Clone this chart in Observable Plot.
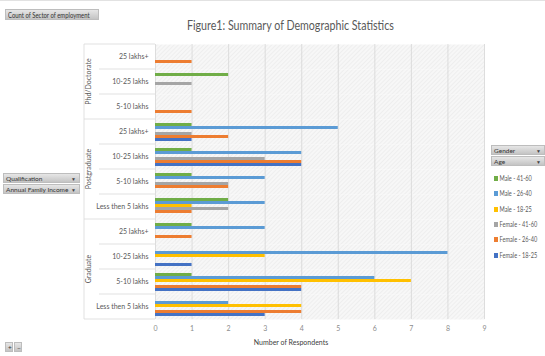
<!DOCTYPE html>
<html>
<head>
<meta charset="utf-8">
<script src="https://cdn.jsdelivr.net/npm/d3@7"></script>
<script src="https://cdn.jsdelivr.net/npm/@observablehq/plot@0.6"></script>
<style>
  html, body { margin: 0; padding: 0; background: #fff; }
  body { font-family: "Lato", sans-serif; }
  #wrap { position: relative; width: 545px; height: 356px; overflow: hidden; border-top: 1px solid #e2e2e2; box-sizing: border-box; }
  #wrap svg { position: absolute; left: 0; top: 0; }
  .title { position: absolute; left: 187px; top: 16px; font-size: 13px; color: #595959; white-space: nowrap;
           transform: scaleX(0.82); transform-origin: 0 0; }
  .btn { position: absolute; height: 10px; line-height: 10px; font-size: 6.5px; color: #333;
         background: linear-gradient(#e6e6e6, #c4c4c4); border: 1px solid #bdbdbd; box-sizing: border-box;
         padding-left: 2px; white-space: nowrap; overflow: hidden; }
  .btn.big { height: 11px; line-height: 10px; font-size: 7.8px; padding-left: 2px; }
  .btn .txt { display: inline-block; transform-origin: 0 50%; }
  .btn.big .txt { transform: scaleX(0.76); }
  .btn .arr { position: absolute; right: 3px; top: 0; font-size: 5px; color: #444; }
  .legend { position: absolute; left: 494px; top: 172px; width: 60px; height: 100px; font-size: 7px; color: #595959;
            transform: scaleX(0.8); transform-origin: 0 0; }
  .legend .item { position: absolute; left: 0; height: 10px; line-height: 10px; white-space: nowrap; }
  .legend .sw { display: inline-block; width: 5px; height: 5px; margin-right: 2px; }
  svg g[aria-label="x-axis tick label"] { fill: #8c8c8c; }
</style>
</head>
<body>
<div id="wrap"></div>
<script>
// Series (legend order, also the top-to-bottom order of bars within a row)
const series = ["Male - 41-60", "Male - 26-40", "Male - 18-25", "Female - 41-60", "Female - 26-40", "Female - 18-25"];
const seriesColors = ["#70ad47", "#5b9bd5", "#ffc000", "#a5a5a5", "#ed7d31", "#4472c4"];

// Outer categories: qualification
const qualifications = ["Phd/Doctorate", "Postgraduate", "Graduate"];

// Inner categories: annual family income, per qualification
const phdIncomes = ["25 lakhs+", "10-25 lakhs", "5-10 lakhs"];
const pgIncomes = ["25 lakhs+", "10-25 lakhs", "5-10 lakhs", "Less then 5 lakhs"];
const gradIncomes = ["25 lakhs+", "10-25 lakhs", "5-10 lakhs", "Less then 5 lakhs"];

// Count of respondents, one array per income row, values in series order
const phdCounts = [
  [0, 0, 0, 0, 1, 0],
  [2, 0, 0, 1, 0, 0],
  [0, 0, 0, 0, 1, 0]
];
const pgCounts = [
  [1, 5, 0, 1, 2, 1],
  [1, 4, 0, 3, 4, 4],
  [1, 3, 0, 2, 2, 0],
  [2, 3, 1, 2, 1, 0]
];
const gradCounts = [
  [1, 3, 0, 0, 1, 0],
  [0, 8, 3, 0, 0, 1],
  [1, 6, 7, 0, 4, 4],
  [0, 2, 4, 0, 4, 3]
];

const xTicks = [0, 1, 2, 3, 4, 5, 6, 7, 8, 9];
const xTitle = "Number of Respondents";

// Build the tidy table
const blocks = [
  {q: qualifications[0], incomes: phdIncomes, counts: phdCounts},
  {q: qualifications[1], incomes: pgIncomes, counts: pgCounts},
  {q: qualifications[2], incomes: gradIncomes, counts: gradCounts}
];
const rowKeys = blocks.flatMap(b => b.incomes.map(inc => `${b.q}|${inc}`));
const data = blocks.flatMap(b => b.incomes.flatMap((inc, r) =>
  series.map((s, i) => ({row: `${b.q}|${inc}`, series: s, count: b.counts[r][i]}))
)).filter(d => d.count > 0);

const W = 545, H = 356;
const M = {top: 43, right: 61, bottom: 38, left: 155};

const chart = Plot.plot({
  width: W,
  height: H,
  marginTop: M.top,
  marginRight: M.right,
  marginBottom: M.bottom,
  marginLeft: M.left,
  style: {fontFamily: '"Lato", sans-serif', fontSize: "7px", color: "#595959", background: "transparent", overflow: "visible"},
  x: {domain: [0, 9], ticks: xTicks, tickSize: 0, tickPadding: 7, label: null},
  fy: {domain: rowKeys, padding: 0, label: null, tickSize: 0, tickPadding: 7, tickFormat: d => d.split("|")[1]},
  y: {domain: series, paddingInner: 0.15, paddingOuter: 1.2, axis: null},
  color: {domain: series, range: seriesColors},
  marks: [
    Plot.frame({fill: "url(#hatch)", stroke: "none"}),
    Plot.ruleX(xTicks, {stroke: "#d6d6d6", strokeWidth: 0.8}),
    Plot.barX(data, {x: "count", y: "series", fy: "row", fill: "series"})
  ]
});

const wrap = document.getElementById("wrap");
wrap.appendChild(chart);

// Background hatch for the plotting area
const svg = d3.select(chart);
const defs = svg.insert("defs", ":first-child");
const pat = defs.append("pattern").attr("id", "hatch").attr("patternUnits", "userSpaceOnUse")
  .attr("width", 3).attr("height", 3).attr("patternTransform", "rotate(45)");
pat.append("rect").attr("width", 3).attr("height", 3).attr("fill", "#f7f7f7");
pat.append("line").attr("x1", 0).attr("y1", 0).attr("x2", 0).attr("y2", 3).attr("stroke", "#e6e6e6").attr("stroke-width", 1);

// Multi-level category axis: separators and rotated qualification labels
const fy = chart.scale("fy");
const band = fy.bandwidth;
const groupLineX = 84, rowLineX = 99;
const deco = svg.append("g").attr("stroke", "#d9d9d9").attr("stroke-width", 0.8);
deco.append("line").attr("x1", groupLineX).attr("x2", groupLineX)
  .attr("y1", fy.apply(rowKeys[0])).attr("y2", fy.apply(rowKeys[rowKeys.length - 1]) + band);
blocks.forEach(b => {
  const first = `${b.q}|${b.incomes[0]}`;
  const last = `${b.q}|${b.incomes[b.incomes.length - 1]}`;
  const y0 = fy.apply(first);
  const y1 = fy.apply(last) + band;
  deco.append("line").attr("x1", groupLineX).attr("x2", M.left).attr("y1", y0).attr("y2", y0);
  b.incomes.slice(1).forEach(inc => {
    const y = fy.apply(`${b.q}|${inc}`);
    deco.append("line").attr("x1", rowLineX).attr("x2", M.left).attr("y1", y).attr("y2", y);
  });
  svg.append("text")
    .attr("transform", `translate(${groupLineX + 5},${(y0 + y1) / 2}) rotate(-90)`)
    .attr("text-anchor", "middle")
    .attr("dominant-baseline", "middle")
    .attr("fill", "#595959")
    .attr("font-size", 7)
    .text(b.q);
});
const yEnd = fy.apply(rowKeys[rowKeys.length - 1]) + band;
deco.append("line").attr("x1", groupLineX).attr("x2", M.left).attr("y1", yEnd).attr("y2", yEnd);

// Value axis title, set a little left of the plot centre
svg.append("text")
  .attr("x", 291)
  .attr("y", H - M.bottom + 24)
  .attr("text-anchor", "middle")
  .attr("dominant-baseline", "middle")
  .attr("fill", "#404040")
  .attr("font-size", 7)
  .text(xTitle);

// Title
const title = document.createElement("div");
title.className = "title";
title.textContent = "Figure1: Summary of Demographic Statistics";
wrap.appendChild(title);

// Pivot field buttons
function button(text, left, top, width, arrow, cls) {
  const b = document.createElement("div");
  b.className = "btn" + (cls ? " " + cls : "");
  b.style.left = left + "px";
  b.style.top = top + "px";
  b.style.width = width + "px";
  const t = document.createElement("span");
  t.className = "txt";
  t.textContent = text;
  b.appendChild(t);
  if (arrow) {
    const a = document.createElement("span");
    a.className = "arr";
    a.textContent = "▼";
    b.appendChild(a);
  }
  wrap.appendChild(b);
}
button("Count of Sector of employment", 5, 8, 94, false, "big");
button("Qualification", 3, 172, 77, true);
button("Annual Family Income", 3, 183, 77, true);
button("Gender", 491, 144, 54, true);
button("Age", 491, 155, 54, true);
button("+", 5, 341, 8, false);
button("−", 14, 341, 8, false);

// Legend, coloured through the chart's own colour scale
const color = chart.scale("color");
const legend = document.createElement("div");
legend.className = "legend";
series.forEach((s, i) => {
  const item = document.createElement("div");
  item.className = "item";
  item.style.top = (i * 15.3) + "px";
  const sw = document.createElement("span");
  sw.className = "sw";
  sw.style.background = color.apply(s);
  item.appendChild(sw);
  item.appendChild(document.createTextNode(s));
  legend.appendChild(item);
});
wrap.appendChild(legend);
</script>
</body>
</html>
